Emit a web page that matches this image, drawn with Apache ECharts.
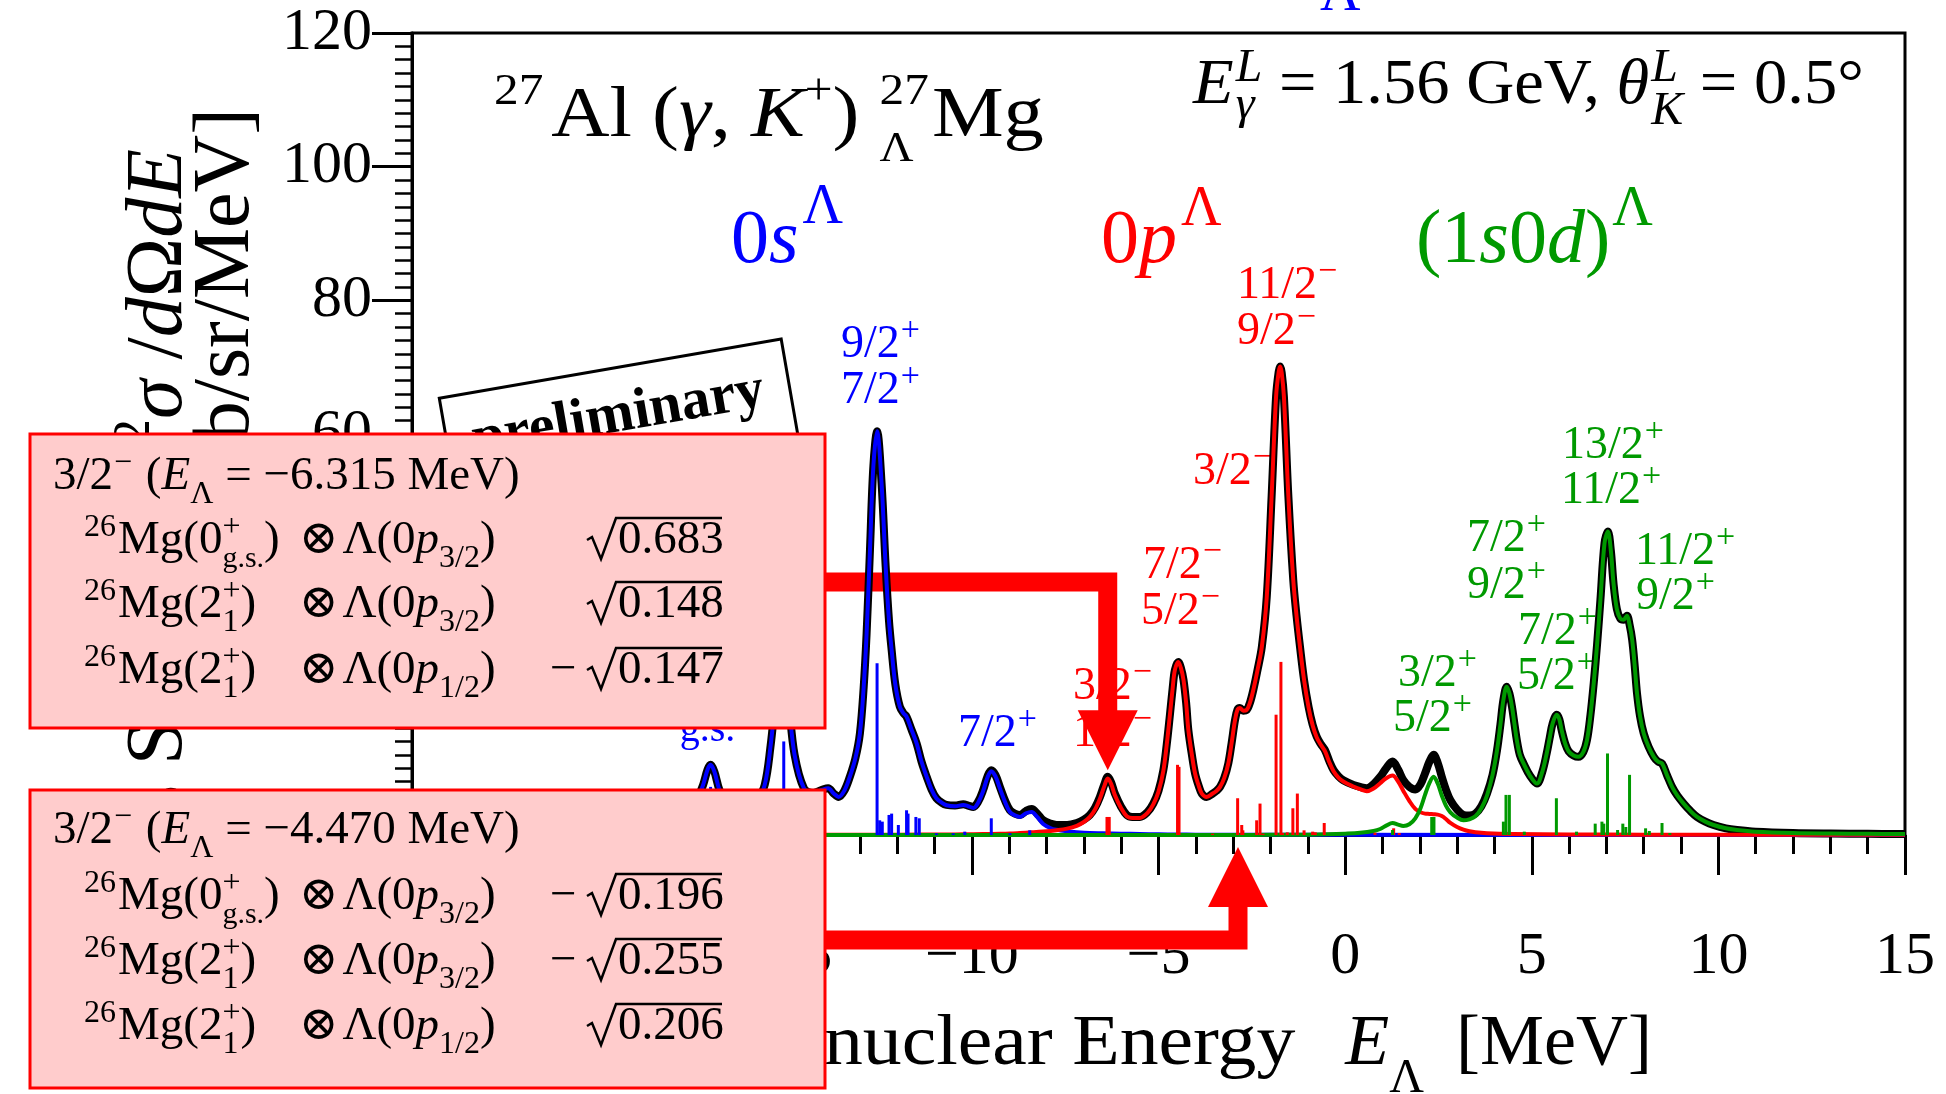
<!DOCTYPE html>
<html><head><meta charset="utf-8">
<script src="https://cdn.jsdelivr.net/npm/echarts@6/dist/echarts.min.js"></script>
<style>html,body{margin:0;padding:0;background:#fff}#c{width:1946px;height:1094px}</style>
</head><body><div id="c"></div>
<script>
// ---------------- DATA ----------------
const xTickRange = [-25, 15];
const yTickRange = [0, 120];

const totalCurve = [[-25,0.1],[-23,0.15],[-21,0.3],[-19.5,0.6],[-18.5,1.2],[-18,1.8],[-17.6,3.2],[-17.35,5.5],[-17.2,7.5],[-17.08,9.8],[-17,10.5],[-16.9,9.5],[-16.76,6.7],[-16.55,4.5],[-16.3,3.6],[-16,3.8],[-15.75,5.2],[-15.55,7.5],[-15.4,13],[-15.25,21],[-15.12,27.5],[-15.02,26],[-14.9,19.5],[-14.75,12],[-14.5,7],[-14.25,6.3],[-14,6.8],[-13.85,7],[-13.7,6.2],[-13.57,5.7],[-13.42,6.6],[-13.27,8.7],[-13.12,11.5],[-13,15.2],[-12.9,22],[-12.82,30.2],[-12.73,42.7],[-12.64,55.1],[-12.54,60.4],[-12.42,52.7],[-12.31,40.2],[-12.22,32],[-12.15,27.7],[-12.05,22.5],[-11.93,19.2],[-11.83,18.2],[-11.75,17.7],[-11.62,15.8],[-11.48,13.7],[-11.35,11],[-11.21,8.7],[-11.08,6.8],[-10.95,5.5],[-10.8,4.8],[-10.68,4.5],[-10.45,4.4],[-10.23,4.6],[-10.1,4.4],[-9.96,4.2],[-9.83,5],[-9.7,6.7],[-9.58,8.8],[-9.48,9.7],[-9.37,9],[-9.25,7.2],[-9.1,5],[-8.98,3.7],[-8.85,3.2],[-8.71,3],[-8.55,3.6],[-8.4,3.9],[-8.25,3.2],[-8.09,2.2],[-7.9,1.7],[-7.73,1.5],[-7.45,1.5],[-7.19,1.8],[-7,2.3],[-6.84,3],[-6.7,4.1],[-6.57,5.7],[-6.45,7.6],[-6.36,8.7],[-6.27,7.9],[-6.17,6.2],[-6,4.2],[-5.85,3],[-5.7,2.7],[-5.5,2.7],[-5.3,3.4],[-5.14,4.7],[-5,6.6],[-4.87,9.7],[-4.78,13.5],[-4.69,18.2],[-4.62,22],[-4.56,24.7],[-4.47,25.9],[-4.4,25],[-4.33,23.2],[-4.26,19.8],[-4.2,15.7],[-4.1,11.8],[-4.02,9.2],[-3.92,7.3],[-3.84,6.2],[-3.71,5.7],[-3.55,6.2],[-3.45,6.6],[-3.35,7.2],[-3.24,8.5],[-3.13,10.7],[-3.04,13.8],[-2.95,17.2],[-2.88,18.8],[-2.82,19],[-2.73,18.6],[-2.64,18.7],[-2.55,19.8],[-2.46,21.7],[-2.35,24.6],[-2.23,28.2],[-2.1,35.6],[-1.97,50.6],[-1.85,65.6],[-1.78,69.3],[-1.74,70.1],[-1.7,69.2],[-1.64,65.6],[-1.52,50.6],[-1.39,38.2],[-1.3,32.7],[-1.21,28.2],[-1.1,23.2],[-0.98,19.2],[-0.87,16.5],[-0.76,14.7],[-0.65,13.6],[-0.54,12.7],[-0.42,11],[-0.31,9.7],[-0.18,8.8],[-0.05,8.2],[0.22,7.5],[0.4,7.2],[0.58,7],[0.76,7.6],[0.94,8.7],[1.1,10],[1.27,11],[1.42,9.8],[1.56,8.2],[1.72,7.2],[1.88,6.8],[2.02,7.6],[2.14,9.2],[2.26,11],[2.37,12],[2.48,10.8],[2.59,8.7],[2.7,6.8],[2.82,5.2],[3,3.8],[3.17,3],[3.33,2.9],[3.49,3.2],[3.65,4.3],[3.8,6.2],[3.95,9],[4.07,12.7],[4.16,16.5],[4.24,20.2],[4.33,22.2],[4.4,21.2],[4.47,19.2],[4.54,16.5],[4.6,14.2],[4.68,12],[4.78,10.7],[4.95,8.9],[5.14,7.7],[5.28,9.4],[5.4,12.2],[5.48,14.5],[5.56,16.7],[5.67,18],[5.74,17.3],[5.8,15.7],[5.9,13.6],[5.99,12.5],[6.12,11.9],[6.25,11.7],[6.38,12.4],[6.48,14.2],[6.57,17.8],[6.66,22.7],[6.75,28.5],[6.84,35.2],[6.95,43.7],[7.04,45.4],[7.12,42.5],[7.19,37.7],[7.28,33.8],[7.37,32.4],[7.46,32.2],[7.55,32.8],[7.62,31.5],[7.69,29.2],[7.76,25.2],[7.82,21.2],[7.9,17.8],[8,15.2],[8.13,13.2],[8.27,11.7],[8.38,11],[8.49,10.7],[8.62,9],[8.76,7.2],[8.9,5.9],[9.07,4.7],[9.25,3.6],[9.43,2.7],[9.65,2],[9.87,1.5],[10.2,1],[10.5,0.75],[11,0.5],[12,0.3],[13,0.22],[14,0.18],[15,0.15]];

const zeroSCurve = [[-25,0.1],[-23,0.15],[-21,0.3],[-19.5,0.6],[-18.5,1.2],[-18,1.8],[-17.6,3.2],[-17.35,5.5],[-17.2,7.5],[-17.08,9.8],[-17,10.5],[-16.9,9.5],[-16.76,6.7],[-16.55,4.5],[-16.3,3.6],[-16,3.8],[-15.75,5.2],[-15.55,7.5],[-15.4,13],[-15.25,21],[-15.12,27.5],[-15.02,26],[-14.9,19.5],[-14.75,12],[-14.5,7],[-14.25,6.3],[-14,6.8],[-13.85,7],[-13.7,6.2],[-13.57,5.7],[-13.42,6.6],[-13.27,8.7],[-13.12,11.5],[-13,15.2],[-12.9,22],[-12.82,30.2],[-12.73,42.7],[-12.64,55.1],[-12.54,60.4],[-12.42,52.7],[-12.31,40.2],[-12.22,32],[-12.15,27.7],[-12.05,22.5],[-11.93,19.2],[-11.83,18.2],[-11.75,17.7],[-11.62,15.8],[-11.48,13.7],[-11.35,11],[-11.21,8.7],[-11.08,6.8],[-10.95,5.5],[-10.8,4.8],[-10.68,4.45],[-10.45,4.3],[-10.23,4.5],[-10.1,4.3],[-9.96,4.05],[-9.83,4.85],[-9.7,6.55],[-9.58,8.65],[-9.48,9.55],[-9.37,8.8],[-9.25,7.0],[-9.1,4.8],[-8.98,3.45],[-8.85,2.95],[-8.71,2.7],[-8.55,3.25],[-8.4,3.45],[-8.25,2.7],[-8.09,1.65],[-7.9,1.05],[-7.73,0.78],[-7.45,0.55],[-7.19,0.42],[-6.84,0.3],[-6.5,0.26],[-6,0.2],[-5.5,0.15],[-5,0.1],[-4.5,0.07],[-4,0.05],[-3,0.03],[0,0.02],[15,0.01]];

const zeroPCurve = [[-25,0],[-14,0.02],[-12,0.05],[-10.68,0.08],[-10.23,0.1],[-9.7,0.15],[-9.25,0.18],[-8.98,0.22],[-8.71,0.3],[-8.4,0.4],[-8.09,0.52],[-7.73,0.72],[-7.45,0.95],[-7.19,1.38],[-7,1.95],[-6.84,2.7],[-6.7,3.82],[-6.57,5.44],[-6.45,7.35],[-6.36,8.46],[-6.27,7.67],[-6.17,5.98],[-6,4.0],[-5.85,2.82],[-5.7,2.53],[-5.5,2.55],[-5.3,3.27],[-5.14,4.58],[-5,6.5],[-4.87,9.6],[-4.78,13.5],[-4.69,18.2],[-4.62,22],[-4.56,24.7],[-4.47,25.9],[-4.4,25],[-4.33,23.2],[-4.26,19.8],[-4.2,15.7],[-4.1,11.8],[-4.02,9.2],[-3.92,7.3],[-3.84,6.2],[-3.71,5.7],[-3.55,6.2],[-3.45,6.6],[-3.35,7.2],[-3.24,8.5],[-3.13,10.7],[-3.04,13.8],[-2.95,17.2],[-2.88,18.8],[-2.82,19],[-2.73,18.6],[-2.64,18.7],[-2.55,19.8],[-2.46,21.7],[-2.35,24.6],[-2.23,28.2],[-2.1,35.6],[-1.97,50.6],[-1.85,65.6],[-1.78,69.3],[-1.74,70.1],[-1.7,69.2],[-1.64,65.6],[-1.52,50.6],[-1.39,38.2],[-1.3,32.7],[-1.21,28.2],[-1.1,23.2],[-0.98,19.1],[-0.87,16.4],[-0.76,14.6],[-0.65,13.5],[-0.54,12.55],[-0.42,10.85],[-0.31,9.55],[-0.18,8.6],[-0.05,8.0],[0.22,7.25],[0.4,6.85],[0.58,6.55],[0.76,6.95],[0.94,7.75],[1.1,8.5],[1.27,8.9],[1.42,8.0],[1.56,6.6],[1.72,5.1],[1.88,3.9],[2.02,3.4],[2.14,3.2],[2.26,3.15],[2.37,3.1],[2.48,3.05],[2.59,2.85],[2.7,2.4],[2.82,1.8],[3,1.2],[3.17,0.8],[3.33,0.55],[3.49,0.4],[3.8,0.27],[4.5,0.16],[6,0.08],[8,0.05],[15,0.02]];

const oneSZeroDCurve = [[-25,0],[-3,0],[-2,0.02],[-1,0.05],[-0.5,0.1],[0,0.2],[0.4,0.33],[0.76,0.6],[0.94,0.9],[1.1,1.4],[1.27,1.8],[1.42,1.55],[1.56,1.35],[1.72,1.6],[1.88,2.5],[2.02,4.0],[2.14,6.0],[2.26,7.8],[2.37,8.7],[2.48,7.7],[2.59,5.9],[2.7,4.4],[2.82,3.4],[3,2.6],[3.17,2.2],[3.33,2.35],[3.49,2.8],[3.65,4.0],[3.8,5.9],[3.95,9],[4.07,12.7],[4.16,16.5],[4.24,20.2],[4.33,22.2],[4.4,21.2],[4.47,19.2],[4.54,16.5],[4.6,14.2],[4.68,12],[4.78,10.7],[4.95,8.9],[5.14,7.7],[5.28,9.4],[5.4,12.2],[5.48,14.5],[5.56,16.7],[5.67,18],[5.74,17.3],[5.8,15.7],[5.9,13.6],[5.99,12.5],[6.12,11.9],[6.25,11.7],[6.38,12.4],[6.48,14.2],[6.57,17.8],[6.66,22.7],[6.75,28.5],[6.84,35.2],[6.95,43.7],[7.04,45.4],[7.12,42.5],[7.19,37.7],[7.28,33.8],[7.37,32.4],[7.46,32.2],[7.55,32.8],[7.62,31.5],[7.69,29.2],[7.76,25.2],[7.82,21.2],[7.9,17.8],[8,15.2],[8.13,13.2],[8.27,11.7],[8.38,11],[8.49,10.7],[8.62,9],[8.76,7.2],[8.9,5.9],[9.07,4.7],[9.25,3.6],[9.43,2.7],[9.65,2],[9.87,1.5],[10.2,1],[10.5,0.75],[11,0.5],[12,0.3],[13,0.22],[14,0.18],[15,0.15]];

const zeroSSticks = [[-17.0,7.2],[-15.04,14.0],[-12.54,25.7],[-12.47,2.2],[-12.40,2.0],[-12.22,3.0],[-12.15,3.2],[-11.97,1.5],[-11.75,3.7],[-11.71,3.2],[-11.50,2.7],[-11.41,2.5],[-10.95,0.25],[-10.50,0.25],[-10.19,0.5],[-9.48,2.5],[-8.98,0.25],[-8.45,0.7]];
const zeroPSticks = [[-6.38,2.7],[-6.32,2.7],[-4.49,10.5],[-4.45,10.2],[-3.55,0.2],[-2.88,5.5],[-2.77,1.5],[-2.74,0.7],[-2.37,2.2],[-2.28,4.7],[-2.20,0.2],[-1.85,18.0],[-1.72,25.9],[-1.68,0.3],[-1.55,0.4],[-1.40,4.0],[-1.28,6.2],[-1.10,0.7],[-0.87,0.5],[-0.80,0.4],[-0.56,1.8],[0.80,0.35],[1.30,1.0],[1.45,0.3]];
const oneSZeroDSticks = [[1.27,0.75],[2.32,2.7],[2.38,2.7],[4.24,2.0],[4.31,6.0],[4.40,6.0],[4.80,0.5],[5.66,5.5],[6.20,0.5],[6.70,1.7],[6.88,2.0],[6.93,1.7],[7.03,12.2],[7.30,0.75],[7.44,1.7],[7.52,1.2],[7.62,9.0],[8.05,1.0],[8.15,0.6],[8.49,1.8],[8.70,0.3]];

// box contents (energies and squared amplitudes with sign)
const box1Energy = -6.315;
const box1Cores = ['gs','21','21'];
const box1Orbits = ['3/2','3/2','1/2'];
const box1Amps = [0.683, 0.148, -0.147];
const box2Energy = -4.470;
const box2Cores = ['gs','21','21'];
const box2Orbits = ['3/2','3/2','1/2'];
const box2Amps = [-0.196, -0.255, 0.206];
const arrowTargets = [[-6.36, 9.7], [-2.87, -1.8]];

// ---------------- RENDER ----------------
const SERIF = '"Liberation Serif","DejaVu Serif",serif';
const BLUE = '#0000FF', RED = '#FF0000', GREEN = '#009900';
const BL = 0.34;
const mctx = document.createElement('canvas').getContext('2d');
function fnt(s, it, b){ return (it?'italic ':'')+(b?'bold ':'')+s+'px '+SERIF; }
function tw(t,s,it,b){ mctx.font=fnt(s,it,b); return mctx.measureText(t).width; }
function run(segs, x, y, o){
  o=o||{}; const S=o.s||48; const col=o.c||'#000'; const SX=o.sx||1;
  let cur=0,last=0; const pl=[];
  segs.forEach(g=>{
    const s=g.s||S; const sx=g.sx||SX;
    const w=tw(g.t,s,g.it,g.b)*sx;
    const p=g.back?last:cur+(g.dx||0);
    if(!g.back) last=p;
    pl.push({g,s,p,w,sx});
    cur=Math.max(cur,p+w);
  });
  const off=o.align==='right'?-cur:o.align==='center'?-cur/2:0;
  return pl.map(q=>({type:'text', silent:true, z:o.z==null?1:o.z, x:x+off+q.p, y:y+(q.g.dy||0)-BL*q.s, scaleX:q.sx,
    style:{text:q.g.t, font:fnt(q.s,q.g.it,q.g.b), fill:q.g.c||col, align:'left', textAlign:'left', verticalAlign:'middle', textVerticalAlign:'middle'}}));
}

const chart = echarts.init(document.getElementById('c'), null, {renderer:'canvas', width:1946, height:1094});

function stickSeries(data, color){
  return {type:'custom', data, z:3, silent:true, encode:{x:0,y:1},
    renderItem:(params, api)=>{
      const p0=api.coord([api.value(0),0]); const p1=api.coord([api.value(0),api.value(1)]);
      return {type:'line', shape:{x1:p0[0],y1:p0[1],x2:p1[0],y2:p1[1]}, style:{stroke:color, lineWidth:3}};
    }};
}
function curve(data, color, w){
  return {type:'line', data, showSymbol:false, symbol:'none', smooth:0.35, silent:true, clip:true,
    lineStyle:{color, width:w, join:'round'}, z:2};
}
const minus = v => v<0 ? '\u2212'+Math.abs(v) : String(v);

chart.setOption({
  animation:false,
  backgroundColor:'#ffffff',
  grid:{left:412, right:41, top:33, bottom:259, show:true, borderColor:'#000', borderWidth:3, backgroundColor:'transparent', containLabel:false, outerBoundsMode:'none'},
  xAxis:{type:'value', min:xTickRange[0], max:xTickRange[1], interval:5,
    axisLine:{onZero:false, lineStyle:{color:'#000', width:3}},
    axisTick:{length:40, lineStyle:{color:'#000', width:3}},
    minorTick:{show:true, splitNumber:5, length:19, lineStyle:{color:'#000', width:3}},
    splitLine:{show:false}, minorSplitLine:{show:false},
    axisLabel:{margin:92, fontSize:60, fontFamily:SERIF, color:'#000', formatter:minus, showMinLabel:true, showMaxLabel:true}},
  yAxis:{type:'value', min:yTickRange[0], max:yTickRange[1], interval:20,
    axisLine:{onZero:false, lineStyle:{color:'#000', width:3}},
    axisTick:{length:40, lineStyle:{color:'#000', width:3}},
    minorTick:{show:true, splitNumber:10, length:17, lineStyle:{color:'#000', width:2.5}},
    splitLine:{show:false}, minorSplitLine:{show:false},
    axisLabel:{margin:40, fontSize:60, fontFamily:SERIF, color:'#000', showMinLabel:true, showMaxLabel:true}},
  series:[
    curve(totalCurve, '#000', 8),
    curve(zeroSCurve, BLUE, 4),
    curve(zeroPCurve, RED, 4),
    curve(oneSZeroDCurve, GREEN, 4),
    stickSeries(zeroSSticks, BLUE),
    stickSeries(zeroPSticks, RED),
    stickSeries(oneSZeroDSticks, GREEN)
  ]
});

const G = [];
const add = a => { G.push(...a); };
// level labels
const SUPS = 34;
function lvl(x, y, frac, sign, col){ return run([{t:frac},{t:sign,s:SUPS,dy:-18,dx:1}], x, y, {s:46, c:col}); }
const P='+', M='\u2212';
[[841,361,'9/2',P],[841,407,'7/2',P],[958,750,'7/2',P]].forEach(a=>add(lvl(a[0],a[1],a[2],a[3],BLUE)));
add(run([{t:'1/2'},{t:P,s:SUPS,dy:-18,dx:1},{t:'g.s.',s:40,dy:12,back:true}], 620, 732, {s:46, c:BLUE}));
[[1237,302,'11/2',M],[1237,348,'9/2',M],[1193,488,'3/2',M],[1143,582,'7/2',M],[1141,628,'5/2',M],[1073,703,'3/2',M],[1073,750,'1/2',M]].forEach(a=>add(lvl(a[0],a[1],a[2],a[3],RED)));
[[1398,690,'3/2',P],[1393,735,'5/2',P],[1467,555,'7/2',P],[1467,602,'9/2',P],[1518,648,'7/2',P],[1517,693,'5/2',P],[1562,462,'13/2',P],[1561,507,'11/2',P],[1635,568,'11/2',P],[1636,613,'9/2',P]].forEach(a=>add(lvl(a[0],a[1],a[2],a[3],GREEN)));
// shell labels
add(run([{t:'0'},{t:'s',it:true},{t:'\u039B',s:56,dy:-41,dx:4}], 731, 268, {s:76, c:BLUE}));
add(run([{t:'0'},{t:'p',it:true},{t:'\u039B',s:56,dy:-39,dx:4}], 1101, 268, {s:76, c:RED}));
add(run([{t:'(1'},{t:'s',it:true},{t:'0'},{t:'d',it:true},{t:')'},{t:'\u039B',s:56,dy:-39,dx:2}], 1416, 268, {s:76, c:GREEN}));
add(run([{t:'\u039B'}], 1320, 14, {s:56, c:BLUE}));
// reaction title
add(run([{t:'27',s:44,dy:-35},{t:'Al',dx:8},{t:' ('},{t:'\u03B3',it:true},{t:', '},{t:'K',it:true},{t:'+',s:44,dy:-35},{t:') '},{t:'27',s:44,dy:-35},{t:'\u039B',s:42,dy:22,back:true},{t:'Mg',dx:3}], 494, 142, {s:72, sx:1.12}));
add(run([{t:'E',it:true},{t:'L',it:true,s:46,dy:-23,dx:2},{t:'\u03B3',it:true,s:46,dy:14,back:true},{t:' = 1.56 GeV, '},{t:'\u03B8',it:true},{t:'L',it:true,s:46,dy:-23,dx:2},{t:'K',it:true,s:46,dy:20,back:true},{t:' = 0.5\u00B0'}], 1193, 108, {s:64, sx:1.04}));
// x axis name
add(run([{t:'Hypernuclear Energy',sx:1.08},{t:'E',it:true,dx:50},{t:'\u039B',s:48,dy:26},{t:' [MeV]',dx:14}], 1652, 1070, {s:72, align:'right'}));
// y axis name (rotated)
G.push({type:'group', x:187, y:149, rotation:Math.PI/2, silent:true,
  children: run([{t:'Cross Section  '},{t:'d',it:true},{t:'2',s:52,dy:-34},{t:'\u03C3',it:true},{t:' /'},{t:'d',it:true},{t:'\u03A9'},{t:'d',it:true},{t:'E',it:true}], 0, 0, {s:80, align:'right'})});
G.push({type:'group', x:254, y:108, rotation:Math.PI/2, silent:true,
  children: run([{t:'[nb/sr/MeV]'}], 0, 0, {s:80, align:'right'})});

// preliminary stamp
G.push({type:'group', x:439.3, y:398.3, rotation:0.172, silent:true, children:[
  {type:'rect', z:5, shape:{x:0,y:0,width:347,height:100}, style:{fill:'#fff', stroke:'#000', lineWidth:3}},
  ...run([{t:'preliminary',b:true}], 173.5, 68, {s:58, align:'center', z:6})
]});

// arrows
const t1 = chart.convertToPixel({gridIndex:0}, arrowTargets[0]);
const t2 = chart.convertToPixel({gridIndex:0}, arrowTargets[1]);
const AR = {fill:RED};
G.push({type:'polyline', z:1.5, silent:true, shape:{points:[[825,582],[t1[0],582],[t1[0],t1[1]-56]]}, style:{stroke:RED, lineWidth:19, fill:null, lineJoin:'miter', lineCap:'butt'}});
G.push({type:'polygon', z:1.5, silent:true, shape:{points:[[t1[0]-30,t1[1]-60],[t1[0]+30,t1[1]-60],[t1[0],t1[1]]]}, style:AR});
G.push({type:'polyline', z:1.5, silent:true, shape:{points:[[825,940],[t2[0],940],[t2[0],t2[1]+56]]}, style:{stroke:RED, lineWidth:19, fill:null, lineJoin:'miter', lineCap:'butt'}});
G.push({type:'polygon', z:1.5, silent:true, shape:{points:[[t2[0]-30,t2[1]+60],[t2[0]+30,t2[1]+60],[t2[0],t2[1]]]}, style:AR});

// configuration boxes
function boxRow(core, j, amp, y){
  const els=[];
  const coreSegs = core==='gs'
    ? [{t:'26',s:32,dy:-19},{t:'Mg(0',dx:2},{t:'+',s:32,dy:-19},{t:'g.s.',s:30,dy:12,back:true},{t:')'}]
    : [{t:'26',s:32,dy:-19},{t:'Mg(2',dx:2},{t:'+',s:32,dy:-19},{t:'1',s:32,dy:12,back:true},{t:')'}];
  els.push(...run(coreSegs, 84, y, {s:47, z:11}));
  els.push(...run([{t:'\u2297'},{t:'\u039B(0',dx:4},{t:'p',it:true},{t:j,s:32,dy:12},{t:')'}], 299, y, {s:47, z:11}));
  if(amp<0) els.push(...run([{t:'\u2212'}], 550, y, {s:47, z:11}));
  els.push({type:'polyline', silent:true, z:11, shape:{points:[[587,y-17],[592,y-20],[601,y+2],[616,y-39],[722,y-39]]}, style:{stroke:'#000', lineWidth:2.5, fill:null}});
  els.push(...run([{t:Math.abs(amp).toFixed(3)}], 618, y, {s:47, z:11}));
  return els;
}
function box(top, h, energy, cores, orbs, amps, ys){
  G.push({type:'rect', z:10, silent:true, shape:{x:30,y:top,width:795,height:h}, style:{fill:'#FFCCCC', stroke:RED, lineWidth:3}});
  add(run([{t:'3/2'},{t:'\u2212',s:32,dy:-19,dx:1},{t:' (',dx:2},{t:'E',it:true},{t:'\u039B',s:32,dy:12},{t:' = \u2212'+Math.abs(energy).toFixed(3)+' MeV)'}], 53, ys[0], {s:47, z:11}));
  cores.forEach((c,i)=>add(boxRow(c, orbs[i], amps[i], ys[i+1])));
}
box(434, 294, box1Energy, box1Cores, box1Orbits, box1Amps, [493,557,621,687]);
box(790, 298, box2Energy, box2Cores, box2Orbits, box2Amps, [847,913,978,1043]);

chart.setOption({graphic:{elements:G}});
</script></body></html>
